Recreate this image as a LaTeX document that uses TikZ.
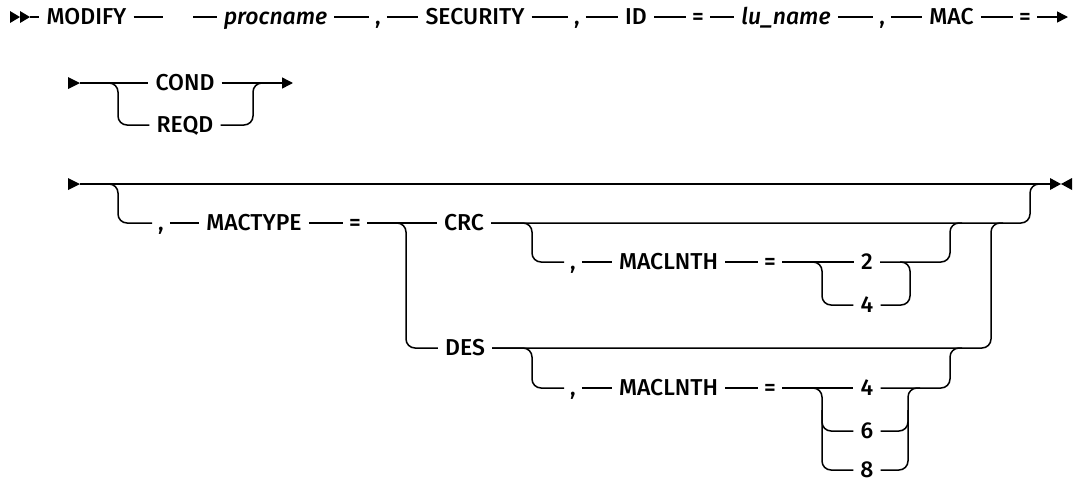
\documentclass[tikz,border=0pt]{standalone}
\usepackage{fontspec}
\setmainfont{Fira Sans}[UprightFont=* Medium, ItalicFont=* Medium Italic]
\usetikzlibrary{arrows.meta}
\tikzset{
  kw/.style={inner xsep=7pt, inner ysep=0pt, text height=15pt, text depth=0pt,
    font=\fontsize{23}{26}\selectfont},
  var/.style={kw, font=\fontsize{23}{26}\selectfont\itshape},
  sep/.style={kw, inner xsep=6pt},
  rail/.style={line width=1.5pt},
  rc/.style={rail, rounded corners=9pt},
  endarrow/.style={rail, -{Triangle[length=11pt,width=11pt]}},
  tip/.style={fill=black}
}
\begin{document}
\begin{tikzpicture}[x=1pt,y=-1pt]
\useasboundingbox (0,0) rectangle (1073,480);
% ---------- row 1 ----------
\coordinate (s1) at (30,17);
\fill[tip] (10,11) -- (20,17) -- (10,23) -- cycle;
\fill[tip] (20,11) -- (30,17) -- (20,23) -- cycle;
\node[kw]  (modify)   at (86.5,17) {MODIFY};
\coordinate (g1) at (163,17);
\coordinate (g2) at (193,17);
\node[var] (procname) at (275.5,17) {procname};
\node[sep] (c1)       at (378,17) {,};
\node[kw]  (security) at (475,17) {SECURITY};
\node[sep] (c2)       at (577,17) {,};
\node[kw]  (id)       at (636,17) {ID};
\node[sep] (eq1)      at (698,17) {=};
\node[var] (luname)   at (786,17) {lu\_name};
\node[sep] (c3)       at (882,17) {,};
\node[kw]  (mac)      at (951.5,17) {MAC};
\node[sep] (eq2)      at (1025,17) {=};
\coordinate (e1) at (1068,17);
\draw[rail] (s1) -- (modify);
\draw[rail] (modify) -- (g1);
\draw[rail] (g2) -- (procname) -- (c1) -- (security) -- (c2) -- (id) -- (eq1)
  -- (luname) -- (c3) -- (mac) -- (eq2);
\draw[endarrow] (eq2) -- (e1);
% ---------- row 2 ----------
\fill[tip] (68,77) -- (80,83) -- (68,89) -- cycle;
\coordinate (s2) at (80,83);
\node[kw] (cond) at (185,83) {COND};
\node[kw] (reqd) at (185,125) {REQD};
\coordinate (e2) at (293,83);
\draw[rail] (s2) -- (cond);
\draw[endarrow] (cond) -- (e2);
\draw[rc] (s2) -- (118,83) -- (118,125) -- (reqd);
\draw[rc] (reqd) -- (253,125) -- (253,83) -- (265,83);
% ---------- row 3 ----------
\fill[tip] (68,178) -- (80,184) -- (68,190) -- cycle;
\coordinate (s3) at (80,184);
\coordinate (e3) at (1050,184);
\fill[tip] (1050,178) -- (1061,184) -- (1050,190) -- cycle;
\fill[tip] (1072,178) -- (1061,184) -- (1072,190) -- cycle;
\draw[rail] (s3) -- (e3);
\node[sep] (c4)      at (161,223) {,};
\node[kw]  (mactype) at (254,223) {MACTYPE};
\node[sep] (eq3)     at (355,223) {=};
\node[kw]  (crc)     at (464,223) {CRC};
\node[kw]  (des)     at (465,348) {DES};
\draw[rc] (s3) -- (118,184) -- (118,223) -- (c4);
\draw[rail] (c4) -- (mactype) -- (eq3) -- (crc);
\draw[rc] (eq3) -- (406,223) -- (406,348) -- (des);
\draw[rc] (crc) -- (1030,223) -- (1030,184) -- (1042,184);
\draw[rc] (des) -- (991,348) -- (991,223) -- (1003,223);
% CRC maclnth
\node[sep] (c5)   at (573,262) {,};
\node[kw]  (ml1)  at (668.5,262) {MACLNTH};
\node[sep] (eq4)  at (770,262) {=};
\node[kw]  (n2)   at (867,262) {2};
\node[kw]  (n4a)  at (867,305) {4};
\draw[rc] (crc) -- (532,223) -- (532,262) -- (c5);
\draw[rail] (c5) -- (ml1) -- (eq4) -- (n2);
\draw[rc] (eq4) -- (822,262) -- (822,305) -- (n4a);
\draw[rc] (n4a) -- (910,305) -- (910,262) -- (900,262);
\draw[rc] (n2) -- (950,262) -- (950,223) -- (962,223);
% DES maclnth
\node[sep] (c6)   at (573,388) {,};
\node[kw]  (ml2)  at (668.5,388) {MACLNTH};
\node[sep] (eq5)  at (770,388) {=};
\node[kw]  (n4b)  at (867,388) {4};
\node[kw]  (n6)   at (867,431) {6};
\node[kw]  (n8)   at (867,470) {8};
\draw[rc] (des) -- (532,348) -- (532,388) -- (c6);
\draw[rail] (c6) -- (ml2) -- (eq5) -- (n4b);
\draw[rc] (eq5) -- (822,388) -- (822,470) -- (n8);
\draw[rc] (822,410) -- (822,431) -- (n6);
\draw[rc] (n6) -- (908,431) -- (908,410);
\draw[rc] (n8) -- (908,470) -- (908,388) -- (920,388);
\draw[rc] (n4b) -- (950,388) -- (950,348) -- (962,348);
\end{tikzpicture}
\end{document}
